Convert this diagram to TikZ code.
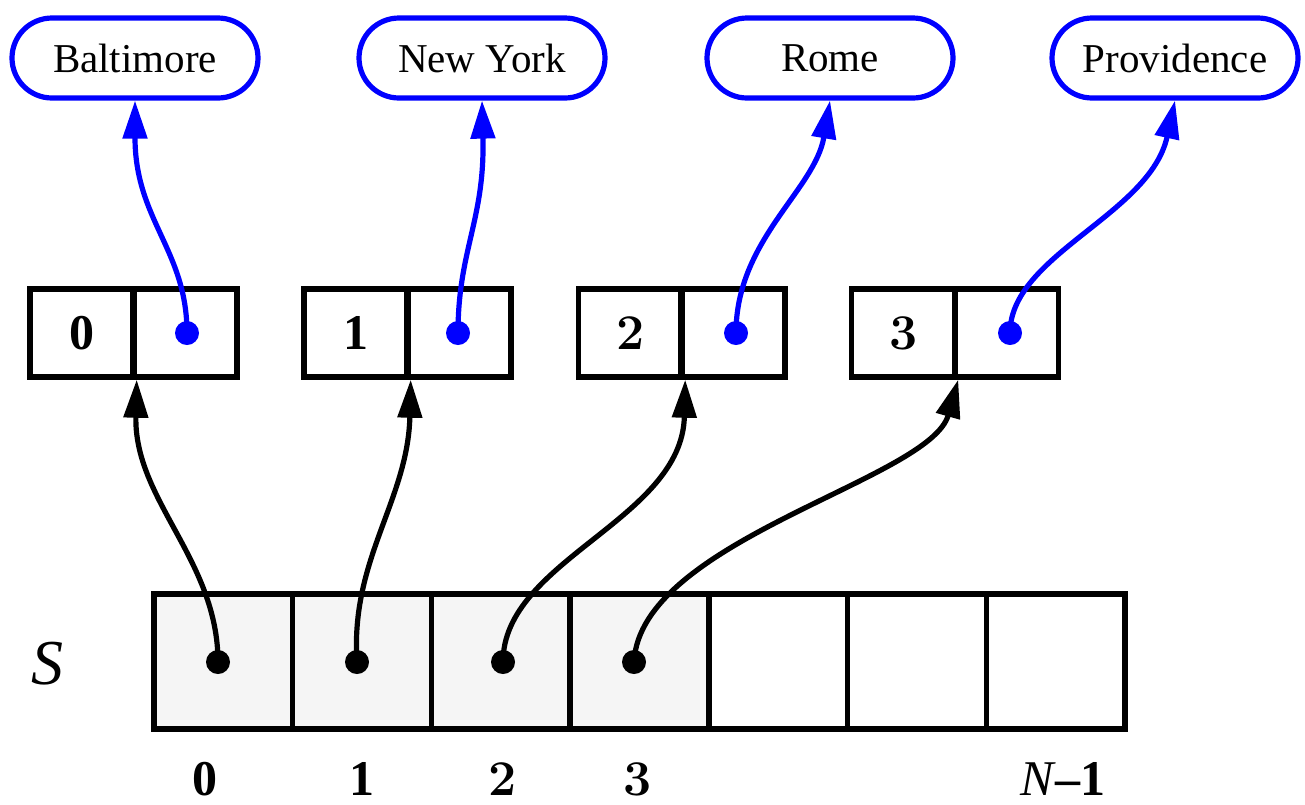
\documentclass[tikz,border=0pt]{standalone}
\usepackage{fontspec}
\setmainfont{Liberation Serif}
\newfontfamily\cmfont{Latin Modern Roman}
\usetikzlibrary{arrows.meta}
\definecolor{cellgray}{HTML}{F5F5F5}
\begin{document}
\begin{tikzpicture}[x=1pt,y=-1pt,
  city/.style={draw=blue, line width=5.2pt, rounded corners=40pt,
    minimum width=246pt, minimum height=80pt, inner sep=0pt,
    font=\fontsize{41}{49}\selectfont},
  rec/.style={draw, line width=5.4pt, minimum width=104pt, minimum height=88pt,
    inner sep=0pt, font=\fontsize{50}{60}\selectfont},
  slot/.style={draw, line width=5.4pt, minimum width=138.7pt, minimum height=135pt,
    inner sep=0pt},
  used/.style={slot, fill=cellgray},
  bdot/.style={circle, fill=blue, minimum size=24pt, inner sep=0pt},
  kdot/.style={circle, fill=black, minimum size=24pt, inner sep=0pt},
  blink/.style={draw=blue, line width=5.2pt, -{Triangle[length=38pt,width=24pt]}},
  klink/.style={draw=black, line width=5.2pt, -{Triangle[length=38pt,width=24pt]}},
  lab/.style={anchor=base, inner sep=0pt, font=\fontsize{50}{60}\selectfont},
  cmdigit/.style={font=\fontsize{50}{60}\cmfont\bfseries}
]
\useasboundingbox (0,0) rectangle (1305,804);

% city names
\node[city] (c0) at (135,58)  {Baltimore};
\node[city] (c1) at (482,58)  {New York};
\node[city] (c2) at (830,58)  {Rome};
\node[city] (c3) at (1175,58) {Providence};

% two-field records: key | pointer
\node[rec] (k0) at (82,333)    {\textbf{0}};
\node[rec] (p0) at (185,333)   {};
\node[rec] (k1) at (356,333)   {\textbf{1}};
\node[rec] (p1) at (459,333)   {};
\node[rec,cmdigit] (k2) at (630.5,333) {2};
\node[rec] (p2) at (733,333)   {};
\node[rec,cmdigit] (k3) at (903.5,333) {3};
\node[rec] (p3) at (1006.5,333){};

% the array S
\foreach \i in {0,...,6} {
  \pgfmathsetmacro\cx{154+138.7*(\i+0.5)}
  \ifnum\i<4
    \node[used] (s\i) at (\cx,661.5) {};
  \else
    \node[slot] (s\i) at (\cx,661.5) {};
  \fi
}

% pointer dots
\node[bdot] (bd0) at (187,333)  {};
\node[bdot] (bd1) at (458,333)  {};
\node[bdot] (bd2) at (736,333)  {};
\node[bdot] (bd3) at (1010,333) {};
\node[kdot] (kd0) at (218,662) {};
\node[kdot] (kd1) at (357,662) {};
\node[kdot] (kd2) at (503,662) {};
\node[kdot] (kd3) at (634,662) {};

% record -> city
\draw[blink] (bd0.center) .. controls (187,250) and (135,220) .. (c0.south);
\draw[blink] (bd1.center) .. controls (458,250) and (485,220) .. (c1.south);
\draw[blink] (bd2.center) .. controls (736,240) and (815,190) .. (c2.south);
\draw[blink] (bd3.center) .. controls (1010,255) and (1150,215) .. (c3.south);

% array slot -> record
\draw[klink] (kd0.center) .. controls (218,560) and (134,500) .. (k0.south east);
\draw[klink] (kd1.center) .. controls (350,560) and (408,500) .. (k1.south east);
\draw[klink] (kd2.center) .. controls (503,560) and (682,520) .. (k2.south east);
\draw[klink] (kd3.center) .. controls (640,540) and (930,480) .. (k3.south east);

% labels
\node[anchor=base, inner sep=0pt, font=\fontsize{64}{70}\selectfont] (sname) at (47,684) {\textit{S}};
\node[lab] (l0) at (205,795)  {\textbf{0}};
\node[lab] (l1) at (362,795)  {\textbf{1}};
\node[lab,cmdigit] (l2) at (503,795)  {2};
\node[lab,cmdigit] (l3) at (638,795)  {3};
\node[lab] (ln) at (1063,795) {\textit{N}\textbf{–1}};
\end{tikzpicture}
\end{document}
